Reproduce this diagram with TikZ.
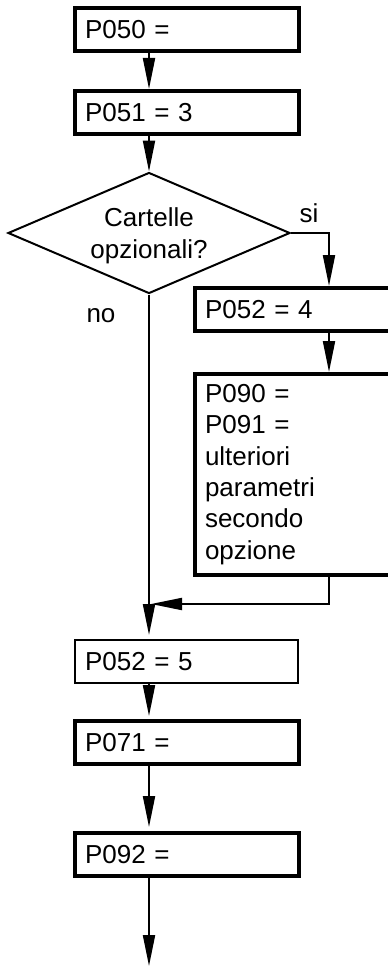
\documentclass[tikz,border=0pt]{standalone}
\usepackage{fontspec}
\setmainfont{Liberation Sans}
\usetikzlibrary{shapes.geometric,arrows.meta}
\begin{document}
\begin{tikzpicture}[x=1pt,y=-1pt,
  every node/.style={font=\fontsize{26}{31.4}\selectfont},
  stepbox/.style={draw, line width=4pt, rectangle, anchor=north west,
    inner xsep=10pt, inner ysep=0pt, align=left, text width=204pt,
    minimum height=43pt},
  thinbox/.style={stepbox, line width=2pt, text width=203pt},
  sidebox/.style={stepbox, text width=220pt},
  decision/.style={draw, diamond, line width=2pt, aspect=2.33,
    inner sep=0pt, minimum width=282pt, minimum height=121pt, align=center,
    text depth=0pt},
  tag/.style={inner sep=0pt},
  conn/.style={line width=2pt, -{Triangle[length=31pt,width=12pt]}}
]
\useasboundingbox (0,0) rectangle (388,966);
\clip (0,0) rectangle (388,966);

% main column
\node[stepbox] (p050) at (73,6) {P050 =};
\node[stepbox] (p051) at (73,89) {P051 = 3};
\node[decision] (dec) at (149,233) {Cartelle\\opzionali?};

% optional-card branch
\node[sidebox] (p052a) at (193,286) {P052 = 4};
\node[sidebox, minimum height=201pt] (p090) at (193,372)
  {P090 =\\P091 =\\ulteriori\\parametri\\secondo\\opzione};

% after the branches join
\node[thinbox] (p052b) at (74,639) {P052 = 5};
\node[stepbox] (p071) at (73,719) {P071 =};
\node[stepbox] (p092) at (73,831) {P092 =};

% branch labels
\node[tag] (si) at (309,213) {si};
\node[tag] (no) at (101,316) {no};

% guide coordinates
\coordinate (spine) at (149,0);
\coordinate (col) at (329,0);
\coordinate (merge) at (151,604);
\coordinate (exit) at (149,966);

% connectors
\draw[conn] (spine |- p050.south) -- (spine |- p051.north);
\draw[conn] (spine |- p051.south) -- (dec.north);
\draw[conn] (dec.east) -| (col |- p052a.north);
\draw[conn] (col |- p052a.south) -- (col |- p090.north);
\draw[conn] (col |- p090.south) |- (merge);
\draw[conn, shorten >=4pt] (dec.south) -- (spine |- p052b.north);
\draw[conn, shorten >=3pt] (spine |- p052b.south) -- (spine |- p071.north);
\draw[conn, shorten >=4pt] (spine |- p071.south) -- (spine |- p092.north);
\draw[conn] (spine |- p092.south) -- (exit);
\end{tikzpicture}
\end{document}
